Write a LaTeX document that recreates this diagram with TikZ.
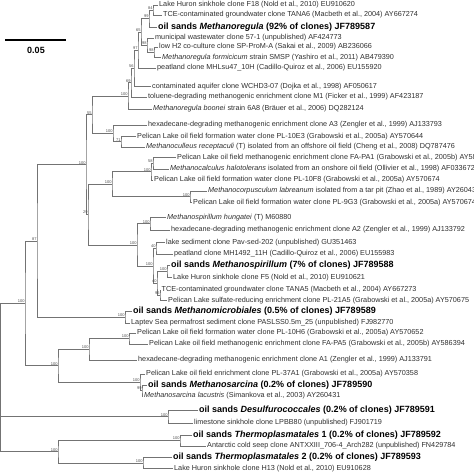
\documentclass[tikz,border=0pt]{standalone}
\usepackage{fontspec}
\setmainfont{Liberation Sans}
\begin{document}
\begin{tikzpicture}[x=1pt,y=-1pt,
  br/.style={draw=black!55,line width=0.6pt},
  leaf/.style={anchor=west,inner xsep=1pt,inner ysep=0pt,text height=5pt,text depth=1.4pt,font=\fontsize{7.25}{8}\selectfont,text=black!82},
  oil/.style={anchor=west,inner xsep=1pt,inner ysep=0pt,text height=6.4pt,text depth=1.8pt,font=\fontsize{9}{10}\selectfont\bfseries,text=black},
  bs/.style={anchor=south east,inner sep=0.3pt,font=\fontsize{4}{4}\selectfont,text=black!70}]
\useasboundingbox (0,0) rectangle (474,474);
% leaves
\node[leaf] (l1) at (158,5) {Lake Huron sinkhole clone F18 (Nold et al., 2010) EU910620};
\node[leaf] (l2) at (162,15) {TCE-contaminated groundwater clone TANA6 (Macbeth et al., 2004) AY667274};
\node[oil] (l3) at (157,27) {oil sands \textit{Methanoregula} (92\% of clones) JF789587};
\node[leaf] (l4) at (154,38) {municipal wastewater clone 57-1 (unpublished) AF424773};
\node[leaf] (l5) at (158,47) {low H2 co-culture clone SP-ProM-A (Sakai et al., 2009) AB236066};
\node[leaf] (l6) at (161,57.5) {\textit{Methanoregula formicicum} strain SMSP (Yashiro et al., 2011) AB479390};
\node[leaf] (l7) at (156,68) {peatland clone MHLsu47\_10H (Cadillo-Quiroz et al., 2006) EU155920};
\node[leaf] (l8) at (151,86.5) {contaminated aquifer clone WCHD3-07 (Dojka et al., 1998) AF050617};
\node[leaf] (l9) at (147,97) {toluene-degrading methanogenic enrichment clone M1 (Ficker et al., 1999) AF423187};
\node[leaf] (l10) at (152,109) {\textit{Methanoregula boonei} strain 6A8 (Bräuer et al., 2006) DQ282124};
\node[leaf] (l11) at (147,125) {hexadecane-degrading methanogenic enrichment clone A3 (Zengler et al., 1999) AJ133793};
\node[leaf] (l12) at (136,136.5) {Pelican Lake oil field formation water clone PL-10E3 (Grabowski et al., 2005a) AY570644};
\node[leaf] (l13) at (145,147) {\textit{Methanoculleus receptaculi} (T) isolated from an offshore oil field (Cheng et al., 2008) DQ787476};
\node[leaf] (l14) at (176,157.5) {Pelican Lake oil field methanogenic enrichment clone FA-PA1 (Grabowski et al., 2005b) AY586381};
\node[leaf] (l15) at (169,169) {\textit{Methanocalculus halotolerans} isolated from an onshore oil field (Ollivier et al., 1998) AF033672};
\node[leaf] (l16) at (153,180) {Pelican Lake oil field formation water clone PL-10F8 (Grabowski et al., 2005a) AY570674};
\node[leaf] (l17) at (207,191) {\textit{Methanocorpusculum labreanum} isolated from a tar pit (Zhao et al., 1989) AY260436};
\node[leaf] (l18) at (192,202.5) {Pelican Lake oil field formation water clone PL-9G3 (Grabowski et al., 2005a) AY570674};
\node[leaf] (l19) at (166,217.5) {\textit{Methanospirillum hungatei} (T) M60880};
\node[leaf] (l20) at (170,230) {hexadecane-degrading methanogenic enrichment clone A2 (Zengler et al., 1999) AJ133792};
\node[leaf] (l21) at (165,242.5) {lake sediment clone Pav-sed-202 (unpublished) GU351463};
\node[leaf] (l22) at (173,254) {peatland clone MH1492\_11H (Cadillo-Quiroz et al., 2006) EU155983};
\node[oil] (l23) at (170,265.5) {oil sands \textit{Methanospirillum} (7\% of clones) JF789588};
\node[leaf] (l24) at (172,277.5) {Lake Huron sinkhole clone F5 (Nold et al., 2010) EU910621};
\node[leaf] (l25) at (160.5,290) {TCE-contaminated groundwater clone TANA5 (Macbeth et al., 2004) AY667273};
\node[leaf] (l26) at (167,300.5) {Pelican Lake sulfate-reducing enrichment clone PL-21A5 (Grabowski et al., 2005a) AY570675};
\node[oil] (l27) at (132,311.5) {oil sands \textit{Methanomicrobiales} (0.5\% of clones) JF789589};
\node[leaf] (l28) at (130,323) {Laptev Sea permafrost sediment clone PASLSS0.5m\_25 (unpublished) FJ982770};
\node[leaf] (l29) at (136,333) {Pelican Lake oil field formation water clone PL-10H6 (Grabowski et al., 2005a) AY570652};
\node[leaf] (l30) at (148,344) {Pelican Lake oil field methanogenic enrichment clone FA-PA5 (Grabowski et al., 2005b) AY586394};
\node[leaf] (l32) at (137,360) {hexadecane-degrading methanogenic enrichment clone A1 (Zengler et al., 1999) AJ133791};
\node[leaf] (l33) at (145,374) {Pelican Lake oil field enrichment clone PL-37A1 (Grabowski et al., 2005a) AY570358};
\node[oil] (l34) at (147,385) {oil sands \textit{Methanosarcina} (0.2\% of clones) JF789590};
\node[leaf] (l35) at (143,396) {\textit{Methanosarcina lacustris} (Simankova et al., 2003) AY260431};
\node[oil] (l36) at (198,410.5) {oil sands \textit{Desulfurococcales} (0.2\% of clones) JF789591};
\node[leaf] (l37) at (193,423) {limestone sinkhole clone LPBB80 (unpublished) FJ901719};
\node[oil] (l38) at (192,435) {oil sands \textit{Thermoplasmatales} 1 (0.2\% of clones) JF789592};
\node[leaf] (l39) at (206,446) {Antarctic cold seep clone ANTXXIII\_706-4\_Arch282 (unpublished) FN429784};
\node[oil] (l40) at (172,457.5) {oil sands \textit{Thermoplasmatales} 2 (0.2\% of clones) JF789593};
\node[leaf] (l41) at (173,468.5) {Lake Huron sinkhole clone H13 (Nold et al., 2010) EU910628};
% internal nodes
\coordinate (n84) at (153,10);
\coordinate (n99) at (149,18.5);
\coordinate (n98a) at (154,52.25);
\coordinate (n98b) at (147,45.1);
\coordinate (n65) at (141,31.8);
\coordinate (n97) at (138,49.9);
\coordinate (n56) at (134,68.2);
\coordinate (n69) at (131,82.6);
\coordinate (n100a) at (128,95.8);
\coordinate (n71) at (121,141.75);
\coordinate (n100b) at (113,133.4);
\coordinate (n55) at (92,114.6);
\coordinate (n58) at (153,163.25);
\coordinate (n100d) at (151,171.6);
\coordinate (n100f) at (190,196.75);
\coordinate (n100e) at (112,184.2);
\coordinate (n100h) at (150,223.75);
\coordinate (n40) at (156,248.25);
\coordinate (nB1) at (167,271.5);
\coordinate (nB2) at (160,295.25);
\coordinate (nB3) at (157,283.4);
\coordinate (nY) at (153,265.8);
\coordinate (nMsp) at (137,244.8);
\coordinate (n29) at (88,214.5);
\coordinate (n100c) at (86,164.6);
\coordinate (nOSMm) at (125,317.25);
\coordinate (n87) at (37,240.9);
\coordinate (nB) at (129,338.5);
\coordinate (nC) at (89,349.25);
\coordinate (nD) at (142,390.5);
\coordinate (nE) at (140,382.25);
\coordinate (nMs) at (58,365.75);
\coordinate (nMM) at (25,303.3);
\coordinate (nDes) at (168,416.75);
\coordinate (nTP1) at (180,440.5);
\coordinate (nTP2) at (143,463);
\coordinate (nTP) at (58,451.75);
\coordinate (root) at (0.3,416.75);
% branches
\draw[br] (l1.west) -| (n84) |- (l2.west);
\draw[br] (n84) -| (n99) |- (l3.west);
\draw[br] (l5.west) -| (n98a) |- (l6.west);
\draw[br] (l4.west) -| (n98b) |- (n98a);
\draw[br] (n99) -| (n65) |- (n98b);
\draw[br] (n65) -| (n97) |- (l7.west);
\draw[br] (n97) -| (n56) |- (l8.west);
\draw[br] (n56) -| (n69) |- (l9.west);
\draw[br] (n69) -| (n100a) |- (l10.west);
\draw[br] (l12.west) -| (n71) |- (l13.west);
\draw[br] (l11.west) -| (n100b) |- (n71);
\draw[br] (n100a) -| (n55) |- (n100b);
\draw[br] (l14.west) -| (n58) |- (l15.west);
\draw[br] (n58) -| (n100d) |- (l16.west);
\draw[br] (l17.west) -| (n100f) |- (l18.west);
\draw[br] (n100d) -| (n100e) |- (n100f);
\draw[br] (l19.west) -| (n100h) |- (l20.west);
\draw[br] (l21.west) -| (n40) |- (l22.west);
\draw[br] (l23.west) -| (nB1) |- (l24.west);
\draw[br] (l25.west) -| (nB2) |- (l26.west);
\draw[br] (nB1) -| (nB3) |- (nB2);
\draw[br] (n40) -| (nY) |- (nB3);
\draw[br] (n100h) -| (nMsp) |- (nY);
\draw[br] (n100e) -| (n29) |- (nMsp);
\draw[br] (n55) -| (n100c) |- (n29);
\draw[br] (l27.west) -| (nOSMm) |- (l28.west);
\draw[br] (n100c) -| (n87) |- (nOSMm);
\draw[br] (l29.west) -| (nB) |- (l30.west);
\draw[br] (nB) -| (nC) |- (l32.west);
\draw[br] (l34.west) -| (nD) |- (l35.west);
\draw[br] (l33.west) -| (nE) |- (nD);
\draw[br] (nC) -| (nMs) |- (nE);
\draw[br] (n87) -| (nMM) |- (nMs);
\draw[br] (l36.west) -| (nDes) |- (l37.west);
\draw[br] (l38.west) -| (nTP1) |- (l39.west);
\draw[br] (l40.west) -| (nTP2) |- (l41.west);
\draw[br] (nTP1) -| (nTP) |- (nTP2);
\draw[br] (nMM) -| (root) |- (nTP);
\draw[br] (root) -- (nDes);
% bootstrap values
\foreach \n/\v in {n84/84,n99/99,n98a/98,n98b/98,n65/65,n97/97,n56/56,n69/69,n100a/100,n71/71,n100b/100,n55/55,n58/58,n100d/100,n100f/100,n100e/100,n100h/100,n40/40,nB1/100,nB2/96,nB3/40,nY/100,nMsp/100,n29/29,n100c/100,nOSMm/100,n87/87,nB/100,nC/100,nD/99,nE/100,nMs/100,nMM/100,nDes/100,nTP1/100,nTP2/100,nTP/100}
  \node[bs] (b\n) at (\n) {\v};
% scale bar
\coordinate (s0) at (5,40);
\coordinate (s1) at (66,40);
\draw[line width=1.7pt] (s0) -- (s1);
\node[font=\fontsize{9}{9}\selectfont\bfseries] (scl) at (36,50) {0.05};
\end{tikzpicture}
\end{document}
